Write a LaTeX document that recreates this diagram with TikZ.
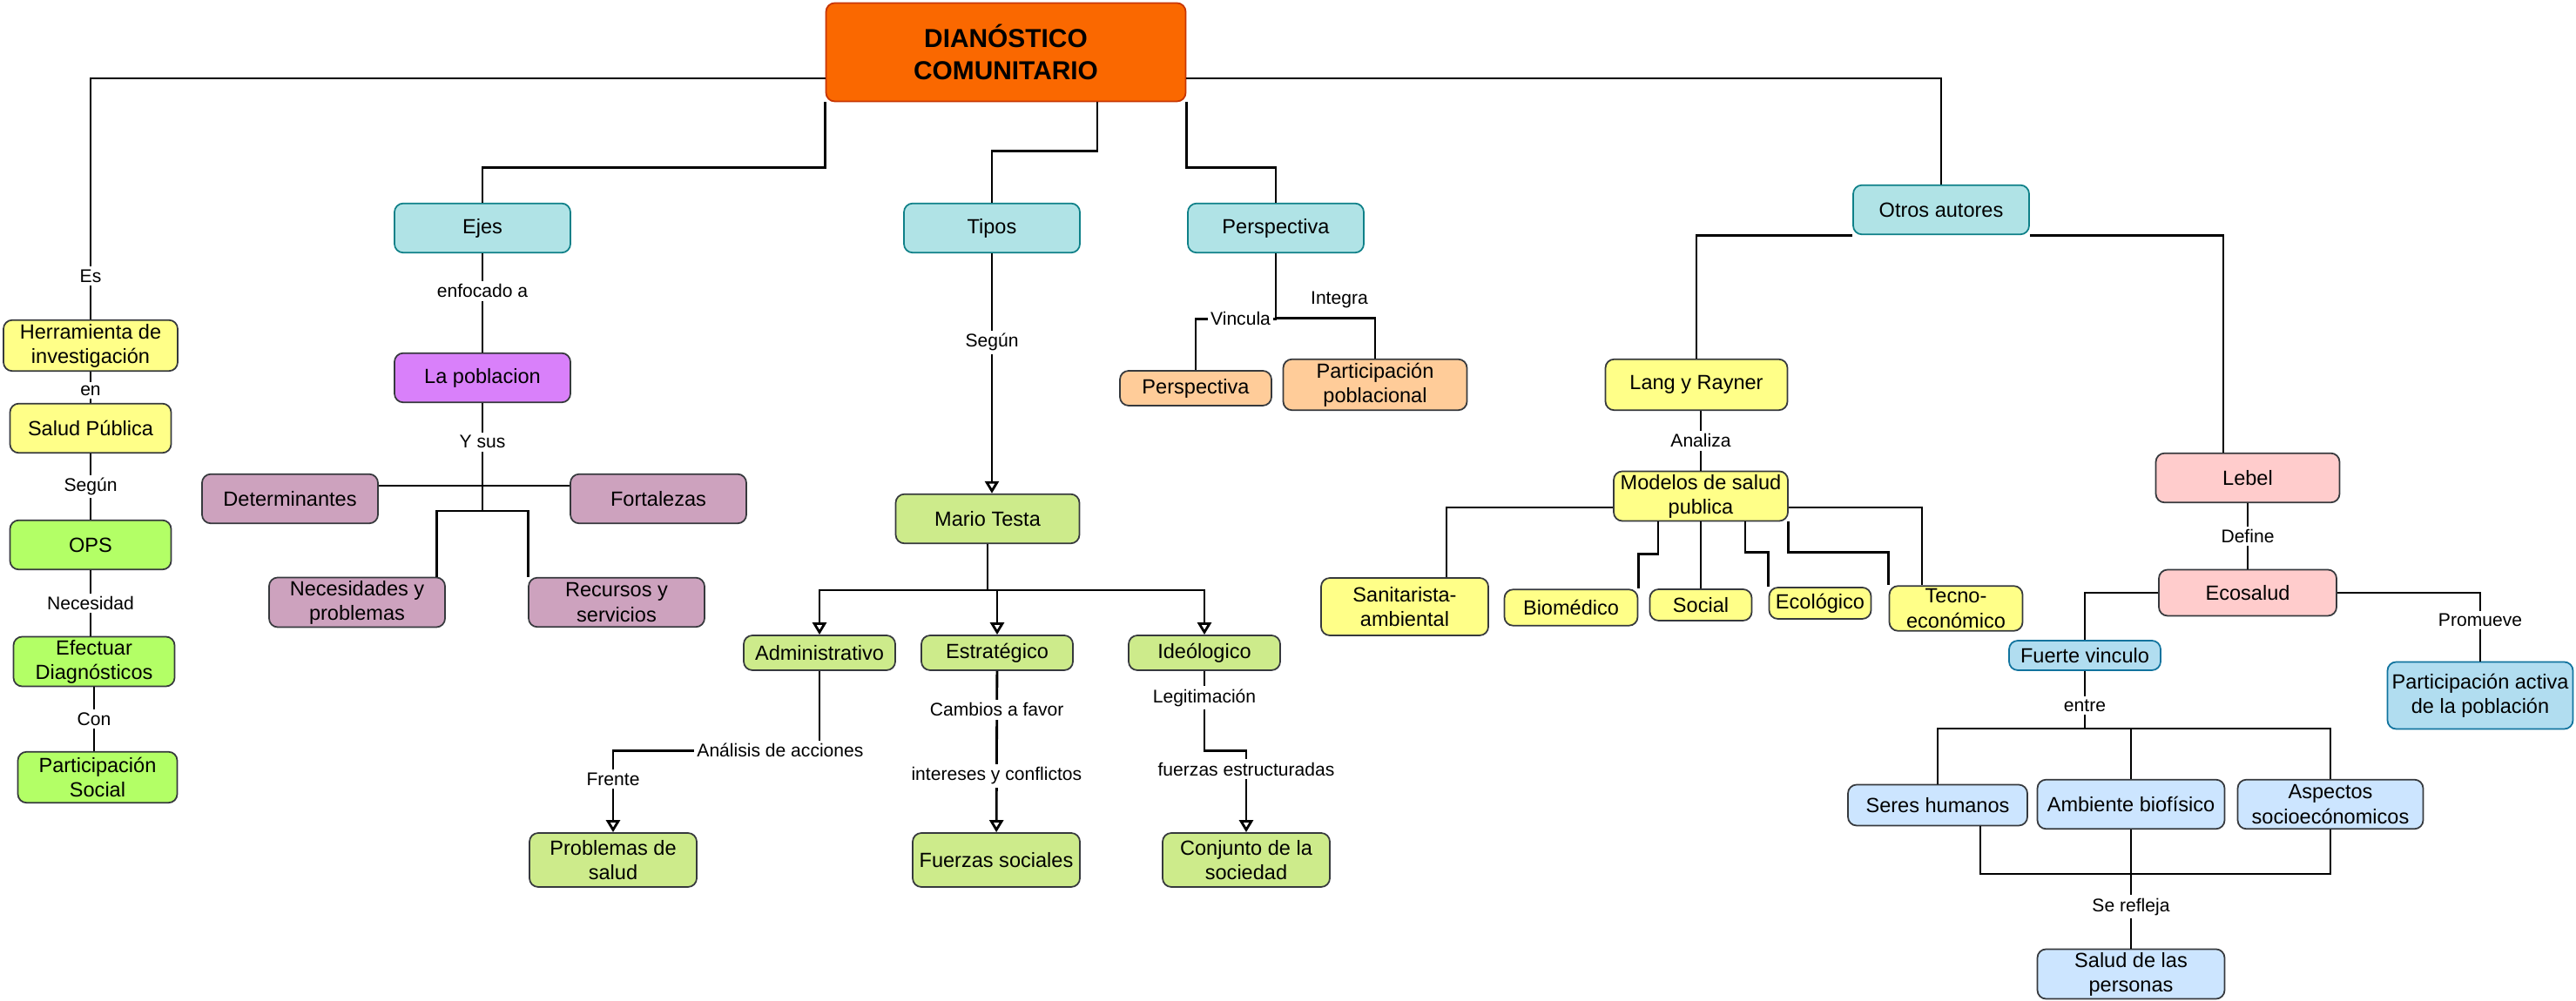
\documentclass[tikz,border=0pt]{standalone}
\usepackage{fontspec}
\setmainfont{Liberation Sans}
\usetikzlibrary{arrows.meta}

\definecolor{mainfill}{HTML}{FA6800}
\definecolor{mainline}{HTML}{C73500}
\definecolor{cyanfill}{HTML}{B0E3E6}
\definecolor{cyanline}{HTML}{0E8088}
\definecolor{boxline}{HTML}{36393D}
\definecolor{yellowfill}{HTML}{FFFF88}
\definecolor{lilacfill}{RGB}{217,128,250}
\definecolor{mauvefill}{HTML}{CDA2BE}
\definecolor{limefill}{HTML}{B3FF66}
\definecolor{greenfill}{HTML}{CDEB8B}
\definecolor{peachfill}{HTML}{FFCC99}
\definecolor{pinkfill}{HTML}{FFCCCC}
\definecolor{bluefill}{HTML}{B1DDF0}
\definecolor{blueline}{HTML}{10739E}
\definecolor{palefill}{HTML}{CCE5FF}

\begin{document}
\begin{tikzpicture}[
    box/.style={draw=boxline, line width=0.5pt, rounded corners=0.1cm, align=center,
        inner sep=1pt, font=\fontsize{6.7}{8}\selectfont},
    sz/.style 2 args={minimum width=#1cm, minimum height=#2cm},
    cyanbox/.style={box, fill=cyanfill, draw=cyanline},
    yellowbox/.style={box, fill=yellowfill},
    limebox/.style={box, fill=limefill},
    mauvebox/.style={box, fill=mauvefill},
    greenbox/.style={box, fill=greenfill},
    peachbox/.style={box, fill=peachfill},
    pinkbox/.style={box, fill=pinkfill},
    bluebox/.style={box, fill=bluefill, draw=blueline},
    palebox/.style={box, fill=palefill},
    lbl/.style={fill=white, inner sep=1pt, font=\fontsize{6}{7}\selectfont},
    link/.style={line width=0.8pt},
    arr/.style={link, -{Triangle[open, length=1.4mm, width=1.6mm]}}
]
    \useasboundingbox (0,0) rectangle (29.58,-11.5);

    \node[box, fill=mainfill, draw=mainline, sz={4.13}{1.13},
        font=\bfseries\fontsize{8.5}{10.5}\selectfont] (diag) at (11.55,-0.60) {DIANÓSTICO\\COMUNITARIO};

    \node[cyanbox, sz={2.02}{0.566}] (ejes) at (5.54,-2.62) {Ejes};
    \node[cyanbox, sz={2.02}{0.566}] (tipos) at (11.39,-2.62) {Tipos};
    \node[cyanbox, sz={2.02}{0.566}] (persp) at (14.65,-2.62) {Perspectiva};
    \node[cyanbox, sz={2.02}{0.566}] (otros) at (22.29,-2.41) {Otros autores};

    \node[yellowbox, sz={2.0}{0.585}] (herr) at (1.04,-3.97) {Herramienta de\\investigación};
    \node[yellowbox, sz={1.85}{0.566}] (salud) at (1.04,-4.92) {Salud Pública};
    \node[limebox, sz={1.85}{0.566}] (ops) at (1.04,-6.26) {OPS};
    \node[limebox, sz={1.85}{0.566}] (efec) at (1.08,-7.60) {Efectuar\\Diagnósticos};
    \node[limebox, sz={1.83}{0.585}] (part) at (1.12,-8.93) {Participación\\Social};

    \node[box, fill=lilacfill, sz={2.02}{0.566}] (pobl) at (5.54,-4.34) {La poblacion};
    \node[mauvebox, sz={2.02}{0.566}] (det) at (3.33,-5.73) {Determinantes};
    \node[mauvebox, sz={2.02}{0.566}] (fort) at (7.56,-5.73) {Fortalezas};
    \node[mauvebox, sz={2.02}{0.566}] (nec) at (4.10,-6.92) {Necesidades y\\problemas};
    \node[mauvebox, sz={2.02}{0.566}] (rec) at (7.08,-6.92) {Recursos y\\servicios};

    \node[greenbox, sz={2.11}{0.566}] (mario) at (11.34,-5.96) {Mario Testa};
    \node[greenbox, sz={1.74}{0.40}] (adm) at (9.41,-7.50) {Administrativo};
    \node[greenbox, sz={1.74}{0.40}] (est) at (11.45,-7.50) {Estratégico};
    \node[greenbox, sz={1.74}{0.40}] (ide) at (13.83,-7.50) {Ideólogico};
    \node[greenbox, sz={1.92}{0.62}] (prob) at (7.04,-9.88) {Problemas de\\salud};
    \node[greenbox, sz={1.92}{0.62}] (fuer) at (11.44,-9.88) {Fuerzas sociales};
    \node[greenbox, sz={1.92}{0.62}] (conj) at (14.31,-9.88) {Conjunto de la\\sociedad};

    \node[peachbox, sz={1.74}{0.40}] (pero) at (13.73,-4.46) {Perspectiva};
    \node[peachbox, sz={2.11}{0.585}] (partp) at (15.79,-4.42) {Participación\\poblacional};

    \node[yellowbox, sz={2.09}{0.585}] (lang) at (19.48,-4.42) {Lang y Rayner};
    \node[yellowbox, sz={2.0}{0.53}] (model) at (19.53,-5.70) {Modelos de salud\\publica};
    \node[yellowbox, sz={1.92}{0.66}] (sanit) at (16.13,-6.97) {Sanitarista-\\ambiental};
    \node[yellowbox, sz={1.53}{0.415}] (biom) at (18.04,-6.98) {Biomédico};
    \node[yellowbox, sz={1.17}{0.36}] (soc) at (19.53,-6.95) {Social};
    \node[yellowbox, sz={1.17}{0.36}] (ecol) at (20.90,-6.93) {Ecológico};
    \node[yellowbox, sz={1.53}{0.51}] (tecno) at (22.46,-6.99) {Tecno-\\económico};

    \node[pinkbox, sz={2.11}{0.566}] (lebel) at (25.81,-5.49) {Lebel};
    \node[pinkbox, sz={2.04}{0.53}] (ecos) at (25.81,-6.81) {Ecosalud};
    \node[bluebox, sz={1.74}{0.34}] (fuerte) at (23.94,-7.53) {Fuerte vinculo};
    \node[bluebox, sz={2.13}{0.77}] (parta) at (28.48,-7.99) {Participación activa\\de la población};
    \node[palebox, sz={2.06}{0.47}] (seres) at (22.25,-9.25) {Seres humanos};
    \node[palebox, sz={2.15}{0.566}] (amb) at (24.47,-9.24) {Ambiente biofísico};
    \node[palebox, sz={2.13}{0.566}] (asp) at (26.76,-9.24) {Aspectos\\socioecónomicos};
    \node[palebox, sz={2.15}{0.566}] (salper) at (24.47,-11.19) {Salud de las\\personas};

    \draw[link] ([yshift=-0.3cm]diag.west) -| node[lbl, pos=0.91] {Es} (herr.north);
    \draw[link] (diag.south west) |- ([yshift=0.4cm]ejes.north) -- (ejes.north);
    \draw[link] ([xshift=1.05cm]diag.south) |- ([yshift=0.59cm]tipos.north) -- (tipos.north);
    \draw[link] (diag.south east) |- ([yshift=0.4cm]persp.north) -- (persp.north);
    \draw[link] ([yshift=-0.3cm]diag.east) -| (otros.north);

    \draw[link] (herr.south) -- node[lbl, pos=0.6] {en} (herr.south |- salud.north);
    \draw[link] (salud.south) -- node[lbl] {Según} (salud.south |- ops.north);
    \draw[link] (ops.south) -- node[lbl] {Necesidad} (ops.south |- efec.north);
    \draw[link] (efec.south) -- node[lbl] {Con} (efec.south |- part.north);

    \coordinate (jpob) at (5.54,-5.58);
    \coordinate (jnec) at (5.54,-5.87);
    \draw[link] (ejes) -- node[lbl, pos=0.38] {enfocado a} (pobl);
    \draw[link] (pobl) -- node[lbl, pos=0.47] {Y sus} (jpob) -- (jnec);
    \draw[link] (det.east |- jpob) -- (fort.west |- jpob);
    \draw[link] (jnec) -| ([xshift=-0.1cm]nec.north east);
    \draw[link] (jnec) -| (rec.north west);

    \coordinate (jmar) at (11.34,-6.78);
    \draw[arr] (tipos.south) -- node[lbl, pos=0.37] {Según} (tipos.south |- mario.north);
    \draw[link] (mario) -- (jmar);
    \draw[arr] (jmar) -| (adm.north);
    \draw[arr] (jmar) -| (est.north);
    \draw[arr] (jmar) -| (ide.north);
    \draw[arr] (adm.south) |- node[lbl, pos=0.595] {Análisis de acciones} ([yshift=0.94cm]prob.north)
        -- node[lbl, pos=0.35] {Frente} (prob.north);
    \draw[arr] (est) -- node[lbl, pos=0.24] {Cambios a favor} node[lbl, pos=0.65] {intereses y conflictos} (fuer);
    \draw[arr] (ide.south) |- node[lbl, pos=0.17] {Legitimación} ([yshift=0.94cm]conj.north)
        -- node[lbl, pos=0.23] {fuerzas estructuradas} (conj.north);

    \draw[link] (persp.south) |- node[lbl, pos=0.72] {Vincula} ([yshift=0.59cm]pero.north) -- (pero.north);
    \draw[link] (persp.south) |- node[lbl, pos=0.82, above=2pt, fill=none] {Integra} ([yshift=0.46cm]partp.north) -- (partp.north);

    \draw[link] (otros.south west) -| (lang.north);
    \draw[link] (otros.south east) -| ([xshift=-0.28cm]lebel.north);
    \draw[link] (model.north |- lang.south) -- node[lbl] {Analiza} (model.north);
    \draw[link] ([yshift=-0.13cm]model.west) -| ([xshift=0.48cm]sanit.north);
    \draw[link] ([xshift=-0.49cm]model.south) |- ([yshift=0.4cm]biom.north east) -- (biom.north east);
    \draw[link] (model.south) -- (model.south |- soc.north);
    \draw[link] ([xshift=0.51cm]model.south) |- ([yshift=0.4cm]ecol.north west) -- (ecol.north west);
    \draw[link] (model.south east) |- ([yshift=0.38cm]tecno.north west) -- (tecno.north west);
    \draw[link] ([yshift=-0.13cm]model.east) -| ([xshift=-0.39cm]tecno.north);

    \draw[link] (lebel) -- node[lbl] {Define} (ecos);
    \draw[link] (ecos.west) -| (fuerte.north);
    \draw[link] (ecos.east) -| node[lbl, pos=0.7] {Promueve} (parta.north);

    \coordinate (jfue) at (23.94,-8.37);
    \coordinate (jsal) at (24.47,-10.04);
    \draw[link] (fuerte) -- node[lbl, pos=0.6] {entre} (jfue);
    \draw[link] (jfue) -| (seres.north);
    \draw[link] (jfue) -| (amb.north);
    \draw[link] (jfue) -| (asp.north);
    \draw[link] ([xshift=0.49cm]seres.south) |- (jsal) -| (asp.south);
    \draw[link] (amb) -- node[lbl, pos=0.65] {Se refleja} (salper);
\end{tikzpicture}
\end{document}
